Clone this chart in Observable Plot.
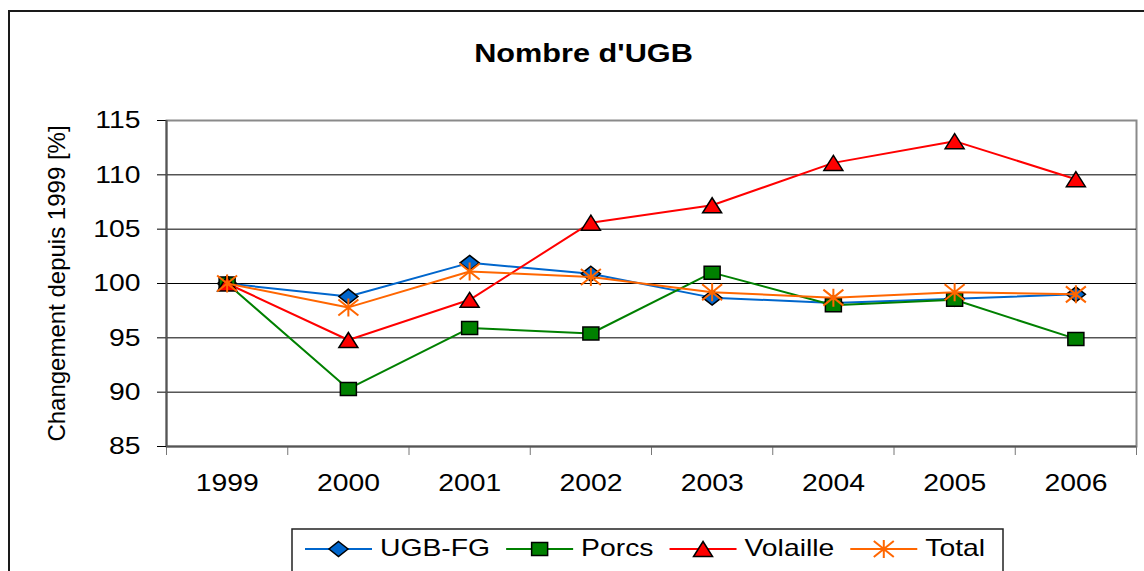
<!DOCTYPE html>
<html><head><meta charset="utf-8">
<script src="https://cdn.jsdelivr.net/npm/d3@7"></script>
<script src="https://cdn.jsdelivr.net/npm/@observablehq/plot@0.6"></script>
<style>
html,body{margin:0;padding:0;background:#fff;overflow:hidden;}
#wrap{position:relative;width:1144px;height:571px;overflow:hidden;font-family:"Liberation Sans",Arial,sans-serif;}
#wrap svg{position:absolute;left:0;top:0;}
#border{position:absolute;left:8px;top:10px;width:1200px;height:700px;border:2px solid #1a1a1a;pointer-events:none;}
</style></head>
<body><div id="wrap"><div id="border"></div></div>
<script>
// ---- data ----
const years = [1999, 2000, 2001, 2002, 2003, 2004, 2005, 2006];
const ugbFG    = [100, 98.8, 101.9, 100.9, 98.7, 98.2, 98.6, 99.0];
const porcs    = [100, 90.3, 95.9, 95.4, 101.0, 98.0, 98.5, 94.9];
const volaille = [100, 94.8, 98.5, 105.6, 107.2, 111.1, 113.1, 109.6];
const total    = [100, 97.8, 101.1, 100.6, 99.2, 98.7, 99.2, 99.0];
const seriesNames = ["UGB-FG", "Porcs", "Volaille", "Total"];
const seriesValues = [ugbFG, porcs, volaille, total];
const seriesColors = ["#0066cc", "#008000", "#ff0000", "#ff6600"];
const yTicks = [85, 90, 95, 100, 105, 110, 115];
const title = "Nombre d'UGB";
const yLabel = "Changement depuis 1999 [%]";

// ---- marker shapes (Excel-like) ----
const symDiamond = {draw(c){c.moveTo(0,-7.5);c.lineTo(9.5,0);c.lineTo(0,7.5);c.lineTo(-9.5,0);c.closePath();}};
const symSquare = {draw(c){c.moveTo(-8,-6.5);c.lineTo(8,-6.5);c.lineTo(8,6.5);c.lineTo(-8,6.5);c.closePath();}};
const symTriangle = {draw(c){c.moveTo(0,-7.5);c.lineTo(9.5,7.5);c.lineTo(-9.5,7.5);c.closePath();}};
const symStar = {draw(c){c.moveTo(0,-9);c.lineTo(0,9);c.moveTo(-10,-8);c.lineTo(10,8);c.moveTo(-10,8);c.lineTo(10,-8);}};
const symbols = [symDiamond, symSquare, symTriangle, symStar];

const rows = [];
seriesNames.forEach((s, si) => years.forEach((yr, i) => rows.push({series: s, year: yr, value: seriesValues[si][i]})));
const bounds = d3.range(years.length + 1).map(i => years[0] - 0.5 + i);

const marks = [
  Plot.frame({stroke: "#8a8a8a", strokeWidth: 2}),
  Plot.ruleY(yTicks.slice(1, -1), {stroke: "#000", strokeWidth: 1}),
  Plot.axisY(yTicks, {tickSize: 9, tickPadding: 17, fontSize: 24, label: null, tickFormat: d => String(d), stroke: "#000"}),
  Plot.axisX(bounds, {tickSize: 9, tickFormat: () => "", label: null, stroke: "#777"}),
  Plot.axisX(years, {tickSize: 0, tickPadding: 27, fontSize: 24, label: null, tickFormat: d => String(d)}),
  Plot.ruleY([yTicks[0]], {stroke: "#555", strokeWidth: 2}),
  Plot.ruleX([bounds[0]], {stroke: "#555", strokeWidth: 2}),
  Plot.text([title], {text: d => d, frameAnchor: "top", dx: -68, dy: -77, fontSize: 26, fontWeight: "bold"}),
  Plot.text([yLabel], {text: d => d, frameAnchor: "left", textAnchor: "middle", lineAnchor: "middle", dx: -109, rotate: -90, fontSize: 24})
];
seriesNames.forEach((s, si) => {
  const d = rows.filter(r => r.series === s);
  marks.push(Plot.line(d, {x: "year", y: "value", stroke: seriesColors[si], strokeWidth: 2}));
  const isStar = si === 3;
  marks.push(Plot.dot(d, {x: "year", y: "value", symbol: symbols[si], r: 5,
    fill: isStar ? "none" : seriesColors[si], stroke: isStar ? seriesColors[si] : "#000", strokeWidth: isStar ? 2 : 1.5}));
});

const chart = Plot.plot({
  width: 1144, height: 571,
  marginLeft: 166, marginRight: 8, marginTop: 120, marginBottom: 125,
  x: {domain: [bounds[0], bounds[bounds.length - 1]]},
  y: {domain: [yTicks[0], yTicks[yTicks.length - 1]]},
  style: {fontFamily: "'Liberation Sans', Arial, sans-serif", color: "#000", background: "transparent"},
  marks
});
const wrap = document.getElementById("wrap");
wrap.insertBefore(chart, wrap.firstChild);

const STRETCH = 1.18;
function stretch(root) {
  root.querySelectorAll("text").forEach(t => {
    const tr = (t.getAttribute("transform") || "") + (t.parentNode.getAttribute("transform") || "");
    if (tr.includes("rotate")) return;
    const L = t.getComputedTextLength();
    if (L > 0) { t.setAttribute("textLength", L * STRETCH); t.setAttribute("lengthAdjust", "spacingAndGlyphs"); }
  });
}
stretch(chart);

// ---- legend ----
const leg = d3.create("svg").attr("width", 1144).attr("height", 571)
  .style("font-family", "'Liberation Sans', Arial, sans-serif").style("pointer-events", "none");
leg.append("rect").attr("x", 292).attr("y", 529).attr("width", 711).attr("height", 80)
  .attr("fill", "none").attr("stroke", "#222").attr("stroke-width", 1.5);
wrap.appendChild(leg.node());
let lx = 305;
seriesNames.forEach((s, si) => {
  const g = leg.append("g");
  g.append("line").attr("x1", lx).attr("x2", lx + 67).attr("y1", 549).attr("y2", 549)
    .attr("stroke", seriesColors[si]).attr("stroke-width", 2);
  const isStar = si === 3;
  g.append("path").attr("d", d3.symbol().type(symbols[si])()).attr("transform", `translate(${lx + 33.5},549)`)
    .attr("fill", isStar ? "none" : seriesColors[si]).attr("stroke", isStar ? seriesColors[si] : "#000")
    .attr("stroke-width", isStar ? 2 : 1.5);
  const t = g.append("text").attr("x", lx + 75).attr("y", 556).attr("font-size", 24).attr("fill", "#000").text(s);
  const L = t.node().getComputedTextLength() * STRETCH;
  t.attr("textLength", L).attr("lengthAdjust", "spacingAndGlyphs");
  lx = lx + 75 + L + 16;
});
</script>
</body></html>
